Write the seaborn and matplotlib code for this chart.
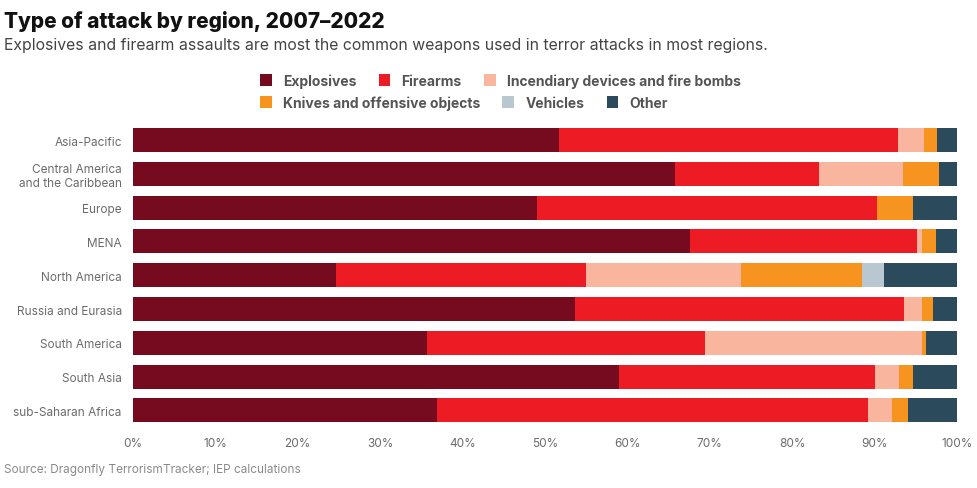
import numpy as np
import pandas as pd
import matplotlib.pyplot as plt
import seaborn as sns
from matplotlib.patches import Patch
from matplotlib.ticker import PercentFormatter

regions = ['Asia-Pacific', 'Central America\nand the Caribbean', 'Europe', 'MENA',
           'North America', 'Russia and Eurasia', 'South America', 'South Asia',
           'sub-Saharan Africa']
attack_types = ['Explosives', 'Firearms', 'Incendiary devices and fire bombs',
                'Knives and offensive objects', 'Vehicles', 'Other']

explosives = [51.7, 65.8, 49.0, 67.6, 24.6, 53.7, 35.7, 59.0, 36.9]
firearms   = [41.1, 17.5, 41.3, 27.5, 30.4, 39.9, 33.7, 31.1, 52.3]
incendiary = [3.2, 10.1, 0.0, 0.7, 18.8, 2.2, 26.4, 2.9, 2.9]
knives     = [1.6, 4.4, 4.4, 1.6, 14.7, 1.3, 0.4, 1.7, 1.9]
vehicles   = [0.0, 0.0, 0.0, 0.0, 2.7, 0.0, 0.0, 0.0, 0.0]
other      = [2.4, 2.2, 5.3, 2.6, 8.8, 2.9, 3.8, 5.3, 6.0]

colors = ['#760a1e', '#ed1c24', '#f9b59d', '#f6941f', '#b8c7d0', '#2b4b5c']

df = pd.DataFrame({'region': regions,
                   'Explosives': explosives,
                   'Firearms': firearms,
                   'Incendiary devices and fire bombs': incendiary,
                   'Knives and offensive objects': knives,
                   'Vehicles': vehicles,
                   'Other': other})
cum = df[attack_types].cumsum(axis=1)

sns.set_theme(style='white')
plt.rcParams['font.family'] = ['Inter', 'DejaVu Sans']

fig = plt.figure(figsize=(9.77, 4.89), dpi=100)
ax = fig.add_axes([0.136, 0.124, 0.8435, 0.622])

# stacked bars: draw cumulative totals from the widest down
for col, c in reversed(list(zip(attack_types, colors))):
    sns.barplot(x=cum[col], y=df['region'], color=c, orient='h', width=0.71,
                saturation=1, ax=ax, linewidth=0)

ax.set_xlim(0, 100)
ax.set_ylim(8.5, -0.5)
ax.xaxis.set_major_locator(plt.MultipleLocator(10))
ax.xaxis.set_major_formatter(PercentFormatter(decimals=0))
ax.set_xlabel('')
ax.set_ylabel('')
ax.tick_params(axis='both', length=0, labelsize=8.5, labelcolor='#6b6b6b')
ax.tick_params(axis='x', pad=7)
ax.tick_params(axis='y', pad=8)
sns.despine(ax=ax, left=True, bottom=True)

fig.text(0.004, 0.978, 'Type of attack by region, 2007\u20132022', fontsize=15,
         fontweight='heavy', color='#111111', va='top', ha='left')
fig.text(0.004, 0.922, 'Explosives and firearm assaults are most the common weapons used in '
         'terror attacks in most regions.', fontsize=11.4, color='#444444',
         va='top', ha='left')
fig.text(0.004, 0.038, 'Source: Dragonfly TerrorismTracker; IEP calculations',
         fontsize=8.5, color='#8a8a8a', va='center', ha='left')

handles = [Patch(facecolor=c, edgecolor='none') for c in colors]
legend_kw = dict(frameon=False, handlelength=0.85, handleheight=0.85,
                 handletextpad=0.8, columnspacing=1.6, borderaxespad=0,
                 borderpad=0, prop={'weight': 'bold', 'size': 10})
leg1 = fig.legend(handles[:3], attack_types[:3], ncol=3, loc='upper left',
                  bbox_to_anchor=(0.266, 0.848), **legend_kw)
leg2 = fig.legend(handles[3:], attack_types[3:], ncol=3, loc='upper left',
                  bbox_to_anchor=(0.266, 0.803), **legend_kw)
for leg in (leg1, leg2):
    for t in leg.get_texts():
        t.set_color('#555555')

fig.savefig('out.png', dpi=100)
